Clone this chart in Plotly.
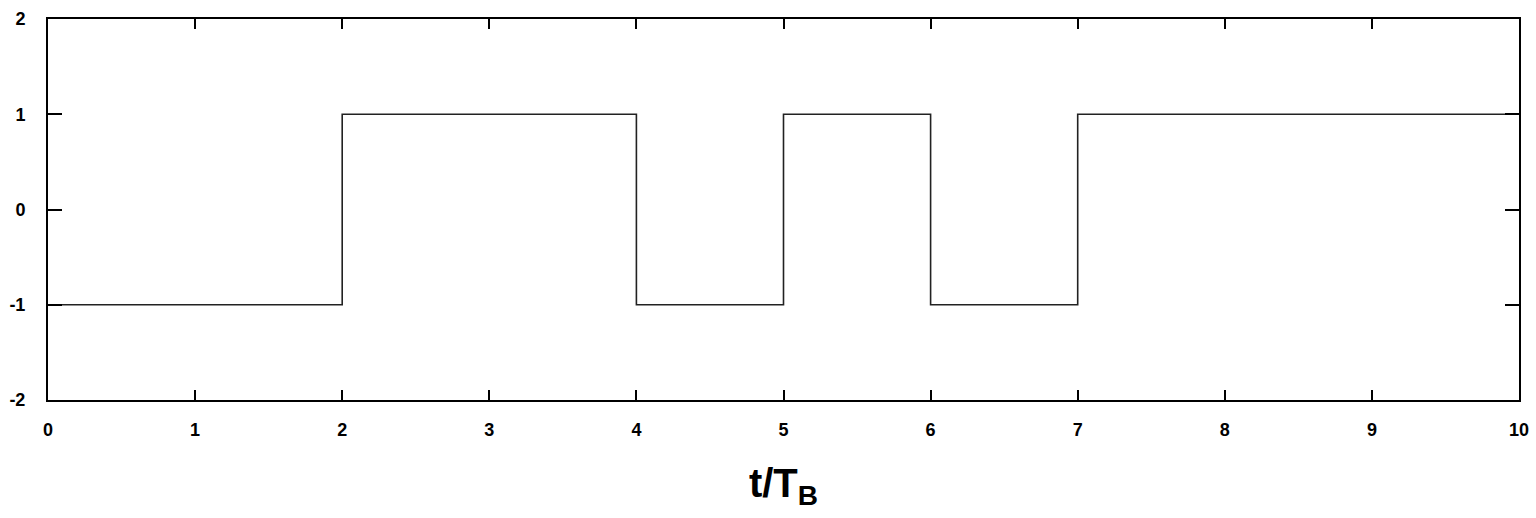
import plotly.graph_objects as go

# Bit sequence (one value per bit interval of length T_B)
bit_starts = [0, 1, 2, 3, 4, 5, 6, 7, 8, 9, 10]
bit_levels = [-1, -1, 1, 1, -1, 1, -1, 1, 1, 1, 1]

x_ticks = [0, 1, 2, 3, 4, 5, 6, 7, 8, 9, 10]
y_ticks = [-2, -1, 0, 1, 2]

fig = go.Figure()
fig.add_trace(go.Scatter(
    x=bit_starts, y=bit_levels, mode="lines", line_shape="hv",
    line=dict(color="#222222", width=1.6), showlegend=False,
))

tickfont = dict(family="Liberation Sans, Arial, sans-serif", size=18, color="black", weight="bold")

fig.update_layout(
    width=1536, height=518,
    margin=dict(l=48, r=17, t=19, b=118, autoexpand=False),
    paper_bgcolor="white", plot_bgcolor="white",
    xaxis=dict(
        range=[0, 10], tickvals=x_ticks, ticktext=[str(v) for v in x_ticks],
        showgrid=False, zeroline=False, showline=True, linecolor="black", linewidth=2,
        mirror="ticks", ticks="inside", ticklen=10, tickwidth=2, tickcolor="black",
        tickfont=tickfont, ticklabelstandoff=12, automargin=False,
        title=dict(text="<b>t/T<sub>B</sub></b>", standoff=30,
                   font=dict(family="Liberation Sans, Arial, sans-serif", size=40, color="black")),
    ),
    yaxis=dict(
        range=[-2, 2], tickvals=y_ticks, ticktext=[str(v) for v in y_ticks],
        showgrid=False, zeroline=False, showline=True, linecolor="black", linewidth=2,
        mirror="ticks", ticks="inside", ticklen=14, tickwidth=2, tickcolor="black",
        tickfont=tickfont, ticklabelstandoff=17, automargin=False,
    ),
)

html = fig.to_html(include_plotlyjs=True, full_html=True,
                   config={"displayModeBar": False, "staticPlot": True})
html = html.replace("<head>", "<head><style>html,body{margin:0;padding:0;}</style>", 1)
with open("out.html", "w", encoding="utf-8") as f:
    f.write(html)
